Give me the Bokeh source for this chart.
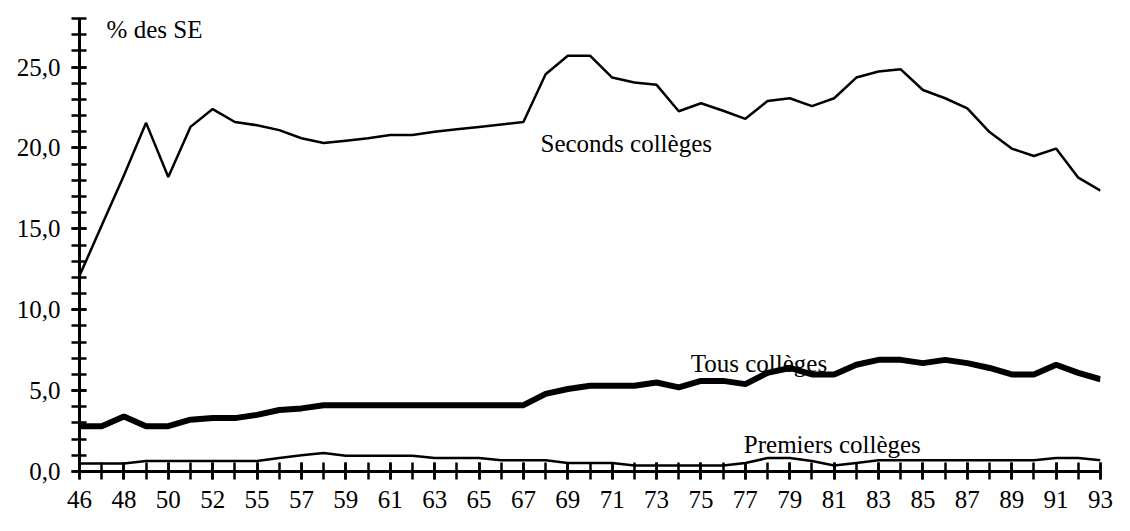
from bokeh.plotting import figure
from bokeh.models import Range1d, FixedTicker, Label, ColumnDataSource, CustomJSTickFormatter
from bokeh.embed import file_html
from bokeh.resources import INLINE

years = ["46", "47", "48", "49", "50", "51", "52", "53",
         "55", "56", "57", "58", "59", "60", "61", "62", "63", "64", "65", "66",
         "67", "68", "69", "70", "71", "72", "73", "74", "75", "76", "77", "78",
         "79", "80", "81", "82", "83", "84", "85", "86", "87", "88", "89", "90",
         "91", "92", "93"]

seconds = [12.1, 15.2, 18.3, 21.55, 18.2, 21.3, 22.4, 21.6, 21.4, 21.1,
           20.6, 20.3, 20.45, 20.6, 20.8, 20.8, 21.0, 21.15, 21.3, 21.45,
           21.6, 24.55, 25.7, 25.7, 24.35, 24.05, 23.9, 22.27, 22.76, 22.3,
           21.8, 22.9, 23.07, 22.58, 23.07, 24.35, 24.72, 24.86, 23.58, 23.07,
           22.45, 20.98, 19.96, 19.5, 19.96, 18.16, 17.36]

tous = [2.8, 2.8, 3.4, 2.8, 2.8, 3.2, 3.3, 3.3, 3.5, 3.8,
        3.9, 4.1, 4.1, 4.1, 4.1, 4.1, 4.1, 4.1, 4.1, 4.1,
        4.1, 4.8, 5.1, 5.3, 5.3, 5.3, 5.5, 5.2, 5.6, 5.6,
        5.4, 6.1, 6.4, 6.0, 6.0, 6.6, 6.9, 6.9, 6.7, 6.9,
        6.7, 6.4, 6.0, 6.0, 6.6, 6.1, 5.7]

premiers = [0.5, 0.5, 0.5, 0.65, 0.65, 0.65, 0.65, 0.65, 0.65, 0.83,
            1.0, 1.15, 0.98, 0.98, 0.98, 0.98, 0.83, 0.83, 0.83, 0.69,
            0.69, 0.69, 0.53, 0.53, 0.53, 0.37, 0.37, 0.37, 0.37, 0.37,
            0.53, 0.83, 0.83, 0.65, 0.37, 0.53, 0.69, 0.69, 0.69, 0.69,
            0.69, 0.69, 0.69, 0.69, 0.83, 0.83, 0.69]

y_major = [0, 5, 10, 15, 20, 25]
y_minor = list(range(0, 29))

idx = list(range(len(years)))
src = ColumnDataSource(dict(x=idx, seconds=seconds, tous=tous, premiers=premiers))

FONT = "Liberation Serif"
FS = "25px"

p = figure(width=1114, height=515, output_backend="svg", toolbar_location=None,
           x_range=Range1d(0, len(years) - 1), y_range=Range1d(0, 28),
           min_border_left=79, min_border_right=14, min_border_top=18, min_border_bottom=44)
p.outline_line_color = None
p.xgrid.visible = False
p.ygrid.visible = False
p.background_fill_color = "white"
p.border_fill_color = "white"

p.line("x", "seconds", source=src, line_color="black", line_width=2.5)
p.line("x", "tous", source=src, line_color="black", line_width=6)
p.line("x", "premiers", source=src, line_color="black", line_width=2.5)

# x axis
x_major = idx[::2]
p.xaxis.ticker = FixedTicker(ticks=x_major, minor_ticks=idx)
p.xaxis.major_label_overrides = {i: years[i] for i in x_major}
for ax in (p.xaxis,):
    ax.axis_line_width = 3
    ax.axis_line_color = "black"
    ax.major_tick_in = 9
    ax.major_tick_out = 8
    ax.minor_tick_in = 9
    ax.minor_tick_out = 8
    ax.major_tick_line_width = 2.5
    ax.minor_tick_line_width = 2.5
    ax.major_tick_line_color = "black"
    ax.minor_tick_line_color = "black"
    ax.major_label_text_font = FONT
    ax.major_label_text_font_size = FS
    ax.major_label_text_color = "black"
    ax.major_label_standoff = 11

# y axis
p.yaxis.ticker = FixedTicker(ticks=y_major, minor_ticks=y_minor)
p.yaxis.formatter = CustomJSTickFormatter(code="return tick.toFixed(1).replace('.', ',');")
for ax in (p.yaxis,):
    ax.axis_line_width = 3
    ax.axis_line_color = "black"
    ax.major_tick_in = 7
    ax.major_tick_out = 8
    ax.minor_tick_in = 7
    ax.minor_tick_out = 8
    ax.major_tick_line_width = 2.5
    ax.minor_tick_line_width = 2.5
    ax.major_tick_line_color = "black"
    ax.minor_tick_line_color = "black"
    ax.major_label_text_font = FONT
    ax.major_label_text_font_size = FS
    ax.major_label_text_color = "black"
    ax.major_label_standoff = 11

def lab(txt, x, y):
    p.add_layout(Label(x=x, y=y, text=txt, text_font=FONT, text_font_size=FS,
                       text_color="black", text_baseline="alphabetic", text_align="left"))

lab("% des SE", 1.22, 27.3)
lab("Seconds collèges", 20.77, 20.26)
lab("Tous collèges", 27.54, 6.7)
lab("Premiers collèges", 29.93, 1.67)

open("out.html", "w").write(file_html(p, INLINE))
